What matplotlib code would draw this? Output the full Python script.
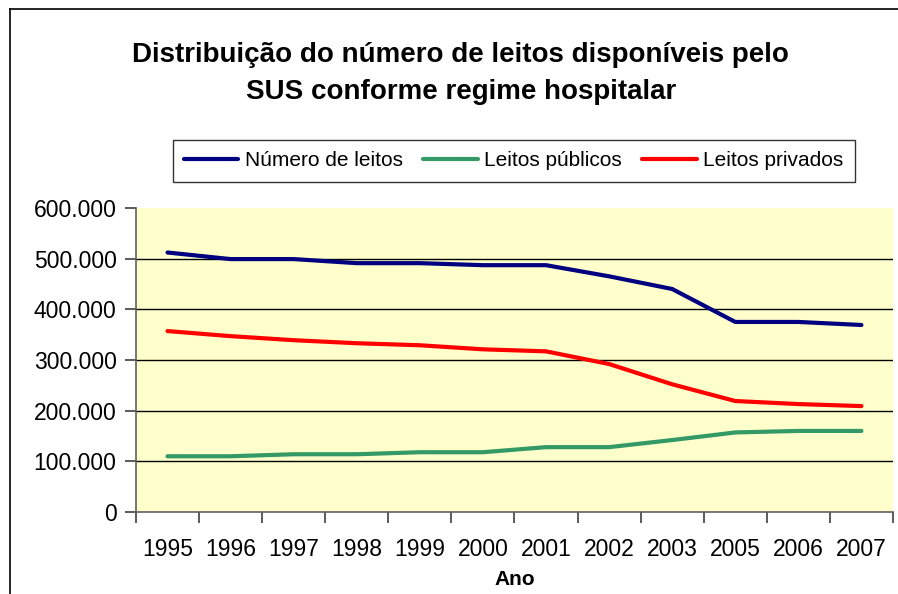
import matplotlib
matplotlib.use("Agg")
import matplotlib.pyplot as plt
from matplotlib.lines import Line2D
from matplotlib.ticker import FuncFormatter, FixedLocator
import numpy as np

plt.rcParams['font.family'] = ['Liberation Sans', 'DejaVu Sans']

# data
anos = ['1995', '1996', '1997', '1998', '1999', '2000', '2001', '2002', '2003', '2005', '2006', '2007']
numero_leitos = [512000, 499000, 499000, 491000, 491000, 487000, 487000, 465000, 440000, 375000, 375000, 369000]
leitos_publicos = [110000, 110000, 114000, 114000, 118000, 118000, 128000, 128000, 142000, 157000, 160000, 160000]
leitos_privados = [357000, 347000, 339000, 333000, 329000, 321000, 317000, 292000, 252000, 219000, 213000, 209000]

series = [
    ('Número de leitos', numero_leitos, '#000080'),
    ('Leitos públicos', leitos_publicos, '#339966'),
    ('Leitos privados', leitos_privados, '#FF0000'),
]

fig = plt.figure(figsize=(8.98, 5.94), dpi=100)
ax = fig.add_axes([0.1514, 0.138, 0.8430, 0.512])
ax.set_facecolor('#FFFFCC')

x = np.arange(len(anos))
for nome, vals, cor in series:
    ax.plot(x, vals, color=cor, lw=3, label=nome, solid_capstyle='round', solid_joinstyle='round')

ax.set_xlim(-0.5, len(anos) - 0.5)
ax.set_ylim(0, 600000)
ax.set_yticks(np.arange(0, 600001, 100000))
ax.yaxis.set_major_formatter(FuncFormatter(lambda v, p: '0' if v == 0 else f'{int(v):,}'.replace(',', '.')))
for yv in range(100000, 600000, 100000):
    ax.axhline(yv, color='black', lw=1, zorder=0.5)

ax.set_xticks(x)
ax.set_xticklabels(anos)
ax.xaxis.set_minor_locator(FixedLocator(np.arange(-0.5, len(anos), 1)))
ax.tick_params(axis='x', which='major', length=0, pad=19, labelsize=16.5)
ax.tick_params(axis='x', which='minor', length=8, width=1.2, color='#404040')
ax.tick_params(axis='y', length=8, width=1.2, color='#404040', labelsize=16.5, pad=6)

for s in ['top', 'right']:
    ax.spines[s].set_visible(False)
for s in ['left', 'bottom']:
    ax.spines[s].set_color('#606060')
    ax.spines[s].set_linewidth(1.2)

ax.set_xlabel('Ano', fontsize=15, fontweight='bold', labelpad=6)

fig.text(0.513, 0.877, 'Distribuição do número de leitos disponíveis pelo\nSUS conforme regime hospitalar',
         ha='center', va='center', fontsize=20, fontweight='bold', linespacing=1.55)

leg = fig.legend(loc='center', bbox_to_anchor=(0.572, 0.729), ncol=3, fontsize=15,
                 frameon=True, fancybox=False, edgecolor='black', handlelength=2.6,
                 handletextpad=0.3, columnspacing=1.0, borderpad=0.55)
leg.get_frame().set_linewidth(1)

# outer chart border (left and top visible)
fig.add_artist(Line2D([10 / 898, 10 / 898], [0, 1 - 9 / 594], transform=fig.transFigure, color='black', lw=1.2))
fig.add_artist(Line2D([10 / 898, 1], [1 - 9 / 594, 1 - 9 / 594], transform=fig.transFigure, color='black', lw=1.2))

fig.savefig('out.png', dpi=100, facecolor='white')
